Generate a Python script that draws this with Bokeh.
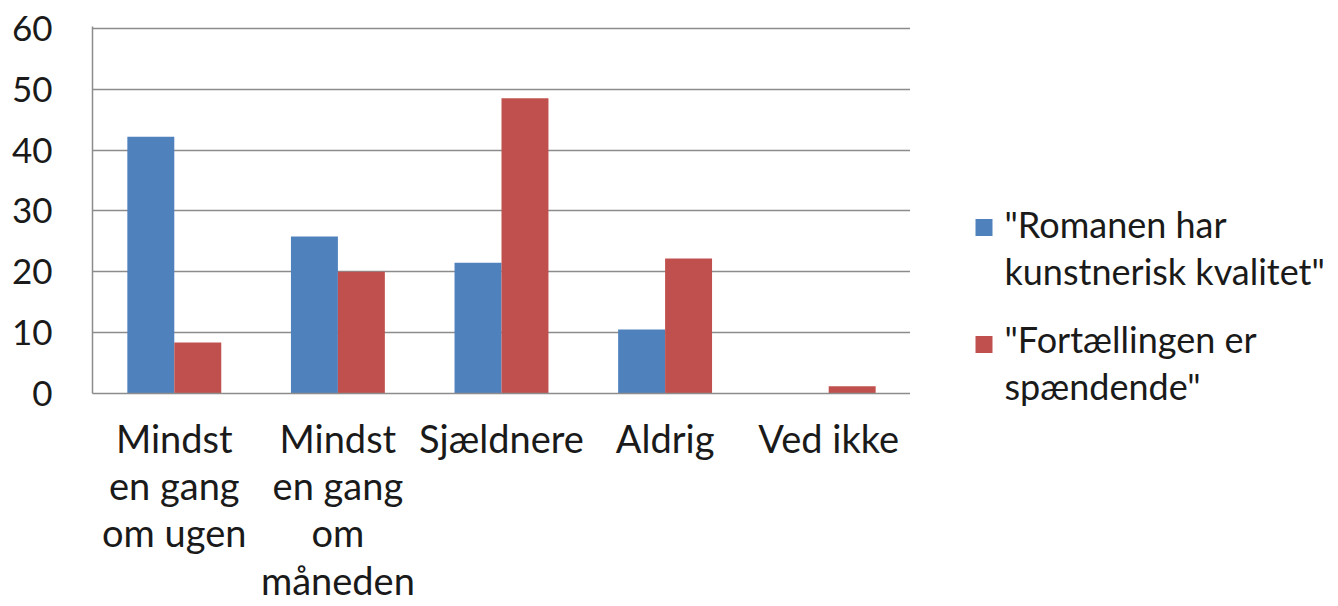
from bokeh.plotting import figure
from bokeh.layouts import row
from bokeh.models import ColumnDataSource, Range1d, FixedTicker
from bokeh.core.properties import value
from bokeh.transform import dodge
from bokeh.embed import file_html
from bokeh.resources import INLINE

categories = ["Mindst en gang om ugen", "Mindst en gang om måneden", "Sjældnere", "Aldrig", "Ved ikke"]
tick_labels = ["Mindst\nen gang\nom ugen", "Mindst\nen gang\nom\nmåneden", "Sjældnere", "Aldrig", "Ved ikke"]
series_names = ['"Romanen har\nkunstnerisk kvalitet"', '"Fortællingen er\nspændende"']
kvalitet = [42.2, 25.8, 21.5, 10.5, 0.0]
spaendende = [8.4, 20.0, 48.5, 22.2, 1.2]
y_ticks = [0, 10, 20, 30, 40, 50, 60]

FONT = "Lato"
GRID = "#8c8c8c"
BLUE = "#4F81BD"
RED = "#C0504D"
TXT = "#1a1a1a"
colors = [BLUE, RED]

src = ColumnDataSource(dict(x=list(range(len(categories))), kvalitet=kvalitet, spaendende=spaendende))

p = figure(width=910, height=606, output_backend="svg", toolbar_location=None,
           x_range=Range1d(-0.5, len(categories) - 0.5), y_range=Range1d(0, 60.3),
           min_border_left=92, min_border_top=26, min_border_bottom=213, min_border_right=0)
p.frame_align = False
p.outline_line_color = None
p.background_fill_color = "white"
p.border_fill_color = "white"

bw = 0.287
p.vbar(x=dodge("x", -bw / 2, range=p.x_range), top="kvalitet", width=bw, source=src,
       fill_color=BLUE, line_color=None)
p.vbar(x=dodge("x", bw / 2, range=p.x_range), top="spaendende", width=bw, source=src,
       fill_color=RED, line_color=None)

# axes
p.xaxis.ticker = FixedTicker(ticks=list(range(len(categories))))
p.xaxis.major_label_overrides = {i: lab for i, lab in enumerate(tick_labels)}
p.yaxis.ticker = FixedTicker(ticks=y_ticks)
for ax in (p.xaxis[0], p.yaxis[0]):
    ax.major_tick_line_color = None
    ax.minor_tick_line_color = None
    ax.axis_line_color = GRID
    ax.axis_line_width = 1.5
    ax.major_label_text_font = FONT
    ax.major_label_text_color = TXT
p.yaxis.major_label_text_font_size = "35px"
p.xaxis.major_label_text_font_size = "38px"
p.yaxis.major_label_standoff = 34
p.xaxis.major_label_standoff = 15
p.xaxis.major_label_text_line_height = 1.03

p.xgrid.grid_line_color = None
p.ygrid.ticker = FixedTicker(ticks=y_ticks)
p.ygrid.grid_line_color = GRID
p.ygrid.grid_line_width = 1.5

# legend panel (pixel-like coordinates, y downward)
lf = figure(width=428, height=606, output_backend="svg", toolbar_location=None,
            x_range=Range1d(0, 428), y_range=Range1d(606, 0),
            min_border_left=0, min_border_right=0, min_border_top=0, min_border_bottom=0)
lf.frame_align = False
lf.title.visible = False
lf.axis.visible = False
lf.grid.grid_line_color = None
lf.outline_line_color = None

leg = ColumnDataSource(dict(
    sx=[73.5, 73.5], sy=[227, 344],
    tx=[94, 94], ty=[247, 362],
    label=series_names, color=colors,
))
lf.rect(x="sx", y="sy", width=17, height=17, source=leg, fill_color="color", line_color=None)
lf.text(x="tx", y="ty", text="label", source=leg, text_font=value(FONT), text_font_size="36px",
        text_color=TXT, text_baseline="middle", text_align="left", text_line_height=1.06)

open("out.html", "w").write(file_html(row(p, lf), INLINE))
